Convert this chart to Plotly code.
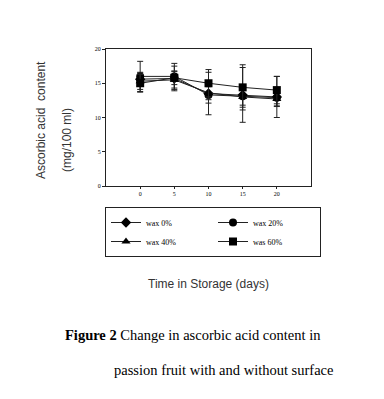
import plotly.graph_objects as go

days = [0, 5, 10, 15, 20]
series_names = ["wax 0%", "wax 20%", "wax 40%", "was 60%"]
symbols = ["diamond", "circle", "triangle-up", "square"]
wax0 = [15.6, 15.7, 13.5, 13.3, 13.0]
wax0_err = [1.0, 1.8, 3.1, 4.0, 3.0]
wax20 = [16.0, 16.0, 13.3, 13.1, 12.9]
wax20_err = [2.2, 1.9, 1.2, 1.6, 1.3]
wax40 = [15.3, 15.5, 13.6, 13.0, 12.7]
wax40_err = [1.2, 1.2, 1.0, 1.2, 1.0]
wax60 = [15.0, 15.8, 15.0, 14.4, 14.0]
wax60_err = [1.3, 1.0, 2.0, 3.3, 2.0]
y_ticks = [0, 5, 10, 15, 20]

values = [wax0, wax20, wax40, wax60]
errors = [wax0_err, wax20_err, wax40_err, wax60_err]

# page offset (body margin) compensation
OX, OY = 8, 8
L, T, R, B = 106 - OX, 49 - OY, 311 - OX, 186 - OY
W, H = R - L, B - T


def px(x):
    return (x - OX - L) / W


def py(y):
    return (B - (y - OY)) / H


fig = go.Figure()
for name, sym, v, e in zip(series_names, symbols, values, errors):
    fig.add_trace(go.Scatter(
        x=days, y=v, name=name, mode="lines+markers",
        line=dict(color="#222222", width=1),
        marker=dict(symbol=sym, size=8, color="black"),
        error_y=dict(type="data", array=e, visible=True, color="#222222", thickness=1, width=3),
    ))

fig.update_layout(
    width=384, height=399,
    margin=dict(l=L, r=384 - R, t=T, b=399 - B),
    paper_bgcolor="white", plot_bgcolor="white",
    showlegend=True,
    legend=dict(
        orientation="h", x=px(105), xanchor="left", y=py(207), yanchor="top",
        bordercolor="#222222", borderwidth=1,
        font=dict(family="Liberation Serif", size=8, color="black"),
        entrywidthmode="pixels", entrywidth=62,
        tracegroupgap=0, itemwidth=30,
    ),
    font=dict(family="Liberation Serif", size=6, color="black"),
)
fig.update_xaxes(
    range=[-5, 25], tickvals=days, ticks="outside", ticklen=2, tickcolor="#222222",
    showline=True, linecolor="#222222", linewidth=1.2, mirror=True,
    showgrid=False, zeroline=False, tickfont=dict(size=6, family="Liberation Serif"),
)
fig.update_yaxes(
    range=[0, 20], tickvals=y_ticks, ticks="outside", ticklen=3, tickcolor="#222222",
    showline=True, linecolor="#222222", linewidth=1.2, mirror=True,
    showgrid=False, zeroline=False, tickfont=dict(size=6, family="Liberation Serif"),
)

ann_font = dict(family="Liberation Sans", size=12, color="#333333")
fig.add_annotation(text="Ascorbic acid  content", xref="paper", yref="paper",
                   x=px(41), y=py(120), textangle=-90,
                   showarrow=False, font=ann_font, xanchor="center", yanchor="middle")
fig.add_annotation(text="(mg/100 ml)", xref="paper", yref="paper",
                   x=px(67), y=py(140), textangle=-90,
                   showarrow=False, font=ann_font, xanchor="center", yanchor="middle")
fig.add_annotation(text="Time in Storage (days)", xref="paper", yref="paper",
                   x=px(208), y=py(284),
                   showarrow=False, font=ann_font, xanchor="center", yanchor="middle")
cap_font = dict(family="Liberation Serif", size=14.5, color="black")
fig.add_annotation(text="<b>Figure 2</b> Change in ascorbic acid content in", xref="paper", yref="paper",
                   x=px(63), y=py(335),
                   showarrow=False, font=cap_font, xanchor="left", yanchor="middle")
fig.add_annotation(text="passion fruit with and without surface", xref="paper", yref="paper",
                   x=px(112), y=py(370),
                   showarrow=False, font=cap_font, xanchor="left", yanchor="middle")

fig.write_html("out.html")
